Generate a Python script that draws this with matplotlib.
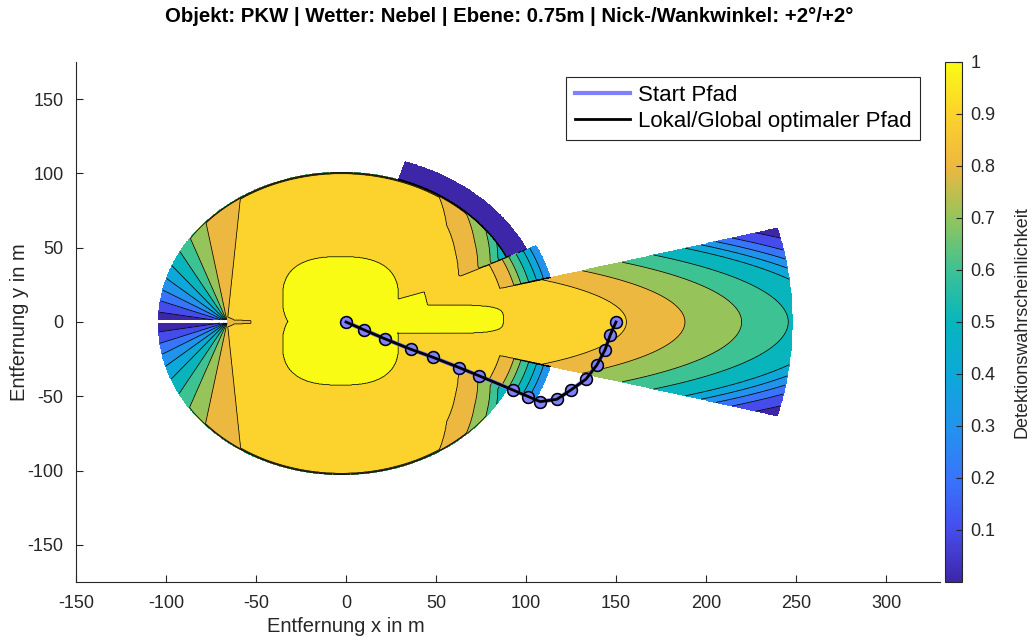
import numpy as np
import matplotlib
matplotlib.use("Agg")
import matplotlib.pyplot as plt
from matplotlib.colors import LinearSegmentedColormap, Normalize
from matplotlib.cm import ScalarMappable
from matplotlib.path import Path

plt.rcParams['font.family'] = ['Liberation Sans', 'DejaVu Sans']
plt.rcParams['axes.unicode_minus'] = False

# ---------------- chart data ----------------
title_text = "Objekt: PKW | Wetter: Nebel | Ebene: 0.75m | Nick-/Wankwinkel: +2°/+2°"
x_ticks = [-150, -100, -50, 0, 50, 100, 150, 200, 250, 300]
y_ticks = [-150, -100, -50, 0, 50, 100, 150]
cbar_ticks = [0.1, 0.2, 0.3, 0.4, 0.5, 0.6, 0.7, 0.8, 0.9, 1.0]
cbar_labels = ["0.1", "0.2", "0.3", "0.4", "0.5", "0.6", "0.7", "0.8", "0.9", "1"]
levels = [0.0, 0.1, 0.2, 0.3, 0.4, 0.5, 0.6, 0.7, 0.8, 0.9, 1.0]

# waypoints of the paths (m)
start_x = [0, 10.2, 21.8, 36.1, 48.2, 62.9, 74.1, 92.6, 101.3, 107.9, 117.2, 125.0, 133.3, 139.4, 143.9, 146.8, 150.0]
start_y = [0, -5.4, -11.4, -18.4, -23.7, -30.7, -36.3, -45.7, -50.2, -53.6, -52.0, -45.7, -38.5, -28.9, -18.8, -8.7, 0.0]
opt_x = [0, 10.2, 21.8, 36.1, 48.2, 62.9, 74.1, 92.6, 101.3, 107.9, 117.2, 125.0, 133.3, 139.4, 143.9, 146.8, 150.0]
opt_y = [0, -5.4, -11.4, -18.4, -23.7, -30.7, -36.3, -45.7, -50.2, -53.6, -52.0, -45.7, -38.5, -28.9, -18.8, -8.7, 0.0]

# 360 deg sensor
omni_center = (-2.5, -1.0)
omni_range = 102.0
front_bearing = [0, 27, 37, 48.5, 57, 66, 90]          # deg
front_r90 = [71, 73.0, 79.4, 88.3, 100.4, 116, 150]     # range of the 0.9 isoline
front_u = [0, 1.0, 1.165, 1.27, 1.335, 1.40, 1.46, 1.53, 1.60, 1.70, 1.80]
front_p = [0.95, 0.9, 0.8, 0.7, 0.6, 0.5, 0.4, 0.3, 0.2, 0.1, 0.0]
rear_apex = (-66.0, 0.0)
rear_angle = [0, 10, 21, 31, 41, 51, 61, 70, 80, 95, 110]
rear_p = [0.03, 0.1, 0.2, 0.3, 0.4, 0.5, 0.6, 0.7, 0.8, 0.9, 0.95]
rim_width = 1.5
rim_p = 0.62

# full-detection core (lobes: cx, cy, a, b, exponent)
core_lobes = [(-3.0, 16.0, 32.2, 28.0, 2.6),
              (-3.0, -15.0, 32.2, 27.5, 2.6),
              (50.0, 1.9, 37.4, 9.5, 4.0)]
core_shoulder = [(27.0, 14.8), (43.5, 20.4), (45.4, 11.4), (27.0, 5.0)]
apex_wedge = [(-67, 4.0), (-62, 1.3), (-53, 0.8), (-53, -0.8), (-62, -1.3), (-67, -4.0)]
apex_p = 0.85

# long range cone
radar_half_angle = 14.8
radar_range = 248.0
radar_k = 3.91
radar_e = [0, 155.9, 188.3, 219.8, 245.7, 270.7, 283.2, 295.0, 308.0, 327.0, 355.0]
radar_p = [0.99, 0.9, 0.8, 0.7, 0.6, 0.5, 0.4, 0.3, 0.2, 0.1, 0.02]

# mid range sector
mid_half_angle = 26.0
mid_range = 117.5
mid_r = [0, 88.5, 96.5, 100.5, 105, 109.5, 113.5, 118]
mid_p = [0.95, 0.9, 0.8, 0.7, 0.6, 0.5, 0.4, 0.3]

# upper side sector
side_angles = (26.0, 72.0)
side_range = 114.5
side_p = 0.03

# ---------------- colormap ----------------
parula_pos = [0.0, 0.1, 0.2, 0.3, 0.4, 0.5, 0.6, 0.7, 0.8, 0.9, 1.0]
parula_rgb = [(0.242, 0.150, 0.660), (0.275, 0.300, 0.930), (0.220, 0.460, 0.990),
              (0.130, 0.580, 0.930), (0.050, 0.660, 0.850), (0.030, 0.710, 0.740),
              (0.240, 0.760, 0.580), (0.580, 0.770, 0.360), (0.930, 0.720, 0.250),
              (0.990, 0.820, 0.180), (0.976, 0.984, 0.081)]
parula = LinearSegmentedColormap.from_list("parula", list(zip(parula_pos, parula_rgb)), N=256)

# ---------------- field ----------------
xs = np.arange(-150, 330.01, 0.35)
ys = np.arange(-175, 175.01, 0.35)
X, Y = np.meshgrid(xs, ys)
pts = np.column_stack([X.ravel(), Y.ravel()])

dx, dy = X - omni_center[0], Y - omni_center[1]
r_o = np.hypot(dx, dy)
th_o = np.degrees(np.arctan2(dy, dx))
r90 = np.interp(np.abs(th_o), front_bearing, front_r90)
p_front = np.interp(r_o / r90, front_u, front_p)
psi = np.degrees(np.arctan2(np.abs(Y - rear_apex[1]), rear_apex[0] - X))
p_rear = np.interp(psi, rear_angle, rear_p)
p_omni = np.minimum(p_front, p_rear)
wedge = Path(apex_wedge).contains_points(pts).reshape(X.shape)
p_omni = np.where(wedge, np.minimum(p_omni, apex_p), p_omni)
p_omni = np.minimum(p_omni, np.interp(r_o, [omni_range - rim_width, omni_range], [1.0, rim_p]))
p_omni = np.where(r_o <= omni_range, p_omni, np.nan)

r_c = np.hypot(X, Y)
th_c = np.degrees(np.abs(np.arctan2(Y, X)))
p_rad = np.interp(np.hypot(X, radar_k * Y), radar_e, radar_p)
p_rad = np.where((th_c <= radar_half_angle) & (r_c <= radar_range), p_rad, np.nan)

p_mid = np.interp(r_c, mid_r, mid_p)
p_mid = np.where((th_c <= mid_half_angle) & (r_c <= mid_range), p_mid, np.nan)

p_side = np.where((th_o >= side_angles[0]) & (th_o <= side_angles[1]) & (r_o <= side_range), side_p, np.nan)

P = np.fmax(np.fmax(p_omni, p_rad), np.fmax(p_mid, p_side))

core = Path(core_shoulder).contains_points(pts).reshape(X.shape)
for cx, cy, a, b, n in core_lobes:
    core |= (np.abs((X - cx) / a) ** n + np.abs((Y - cy) / b) ** n) <= 1.0
P = np.where(core, 1.05, P)

# blind strip behind the vehicle
P = np.where((np.abs(Y - 0.4) < 0.9) & (X < rear_apex[0]) & np.isnan(p_rad), np.nan, P)

# ---------------- figure ----------------
fig = plt.figure(figsize=(10.33, 6.42), dpi=100)
ax = fig.add_axes([76 / 1033, 60 / 642, 864 / 1033, 520 / 642])

band_edges = levels + [2.0]
band_colors = [parula(v) for v in levels]
ax.contourf(X, Y, P, levels=band_edges, colors=band_colors)
ax.contour(X, Y, P, levels=levels[1:], colors='k', linewidths=0.55)

ax.plot(start_x, start_y, '-', color=(0.5, 0.5, 1.0), lw=3.0, label="Start Pfad", zorder=3)
ax.plot(start_x, start_y, 'o', ms=8.5, mfc=(0.5, 0.5, 1.0), mec=(0.45, 0.45, 0.95), mew=1.0, zorder=4)
ax.plot(opt_x, opt_y, '-', color='k', lw=2.0, label="Lokal/Global optimaler Pfad", zorder=5)
ax.plot(opt_x, opt_y, 'o', ms=8.5, mfc='none', mec='k', mew=1.1, zorder=6)

ax.set_xlim(-150, 330)
ax.set_ylim(-175, 175)
ax.set_xticks(x_ticks)
ax.set_xticklabels([str(v) for v in x_ticks])
ax.set_yticks(y_ticks)
ax.set_yticklabels([str(v) for v in y_ticks])
grey = (0.15, 0.15, 0.15)
ax.tick_params(direction='in', length=5, width=0.8, colors=grey, labelsize=13,
               labelcolor=grey, pad=9)
for s in ['top', 'right']:
    ax.spines[s].set_visible(False)
for s in ['left', 'bottom']:
    ax.spines[s].set_color(grey)
    ax.spines[s].set_linewidth(0.8)

ax.set_xlabel("Entfernung x in m", fontsize=14.5, color=grey)
ax.xaxis.set_label_coords(150 / 480, -0.068)
ax.set_ylabel("Entfernung y in m", fontsize=14.5, color=grey)
ax.yaxis.set_label_coords(-0.054, 0.5)

leg = ax.legend(loc='upper right', bbox_to_anchor=(0.977, 0.972), fontsize=16,
                frameon=True, fancybox=False, edgecolor=grey, framealpha=1.0,
                handlelength=2.5, handletextpad=0.35, borderpad=0.38, labelspacing=0.22,
                borderaxespad=0.0)
leg.get_frame().set_linewidth(0.8)

fig.text(509 / 1033, 1 - 17 / 642, title_text, ha='center', va='center',
         fontsize=14.7, fontweight='bold', color='k')

cax = fig.add_axes([945 / 1033, 60 / 642, 17 / 1033, 520 / 642])
cb = fig.colorbar(ScalarMappable(norm=Normalize(0, 1), cmap=parula), cax=cax)
cb.set_ticks(cbar_ticks)
cb.set_ticklabels(cbar_labels)
cb.ax.tick_params(direction='in', length=4, width=0.8, colors=grey, labelsize=13,
                  labelcolor=grey, pad=6)
cb.outline.set_edgecolor(grey)
cb.outline.set_linewidth(0.8)
cb.set_label("Detektionswahrscheinlichkeit", fontsize=13, color=grey, labelpad=13)

fig.savefig("out.png", dpi=100)
